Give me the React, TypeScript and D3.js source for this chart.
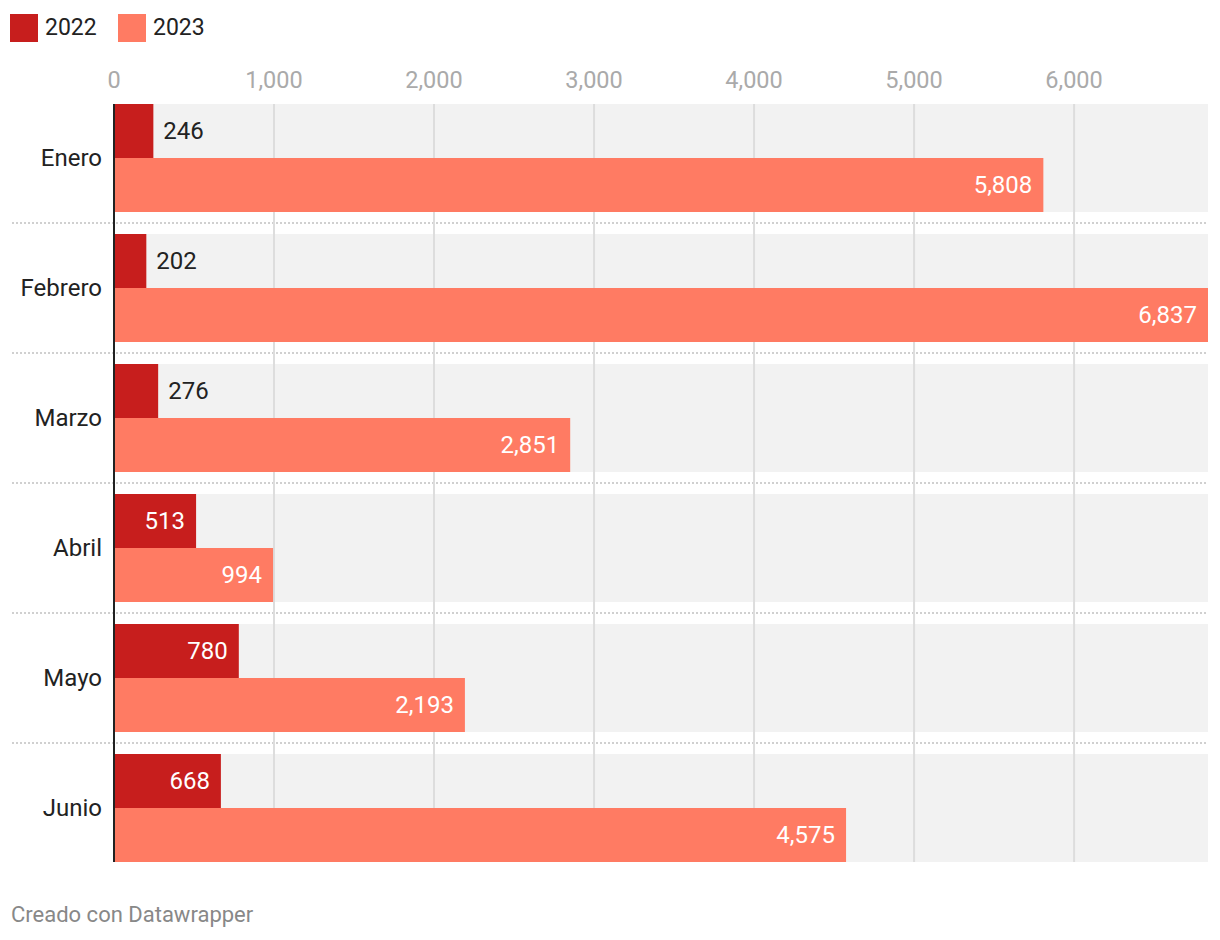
import React from "react";
import * as d3 from "d3";

const months = ["Enero", "Febrero", "Marzo", "Abril", "Mayo", "Junio"];
const values2022 = [246, 202, 276, 513, 780, 668];
const values2023 = [5808, 6837, 2851, 994, 2193, 4575];
const seriesNames = ["2022", "2023"];
const seriesColors = ["#c71e1d", "#ff7b63"];
const tickValues = [0, 1000, 2000, 3000, 4000, 5000, 6000];
const footerText = "Creado con Datawrapper";

const W = 1220;
const H = 940;
const FONT = "Roboto, 'Noto Sans', sans-serif";

export default function App() {
  const x = d3.scaleLinear().domain([0, d3.max(values2023)!]).range([114, 1208]);
  const rowTop0 = 104;
  const pitch = 130;
  const bandH = 108;
  const y = d3
    .scaleBand<string>()
    .domain(months)
    .range([rowTop0, rowTop0 + pitch * months.length]);
  const fmt = d3.format(",");
  const series = [values2022, values2023];
  const barH = bandH / 2;

  return (
    <svg
      width={W}
      height={H}
      style={{ position: "absolute", left: 0, top: 0, background: "#fff" }}
      fontFamily={FONT}
    >
      {/* legend */}
      {seriesNames.map((name, i) => {
        const lx = 10 + i * 108;
        return (
          <g key={name}>
            <rect x={lx} y={14} width={28} height={28} fill={seriesColors[i]} />
            <text x={lx + 35} y={34.5} fontSize={23} fill="#222">
              {name}
            </text>
          </g>
        );
      })}

      {/* axis tick labels */}
      {tickValues.map((t) => (
        <text
          key={t}
          x={x(t)}
          y={87.5}
          fontSize={23.5}
          fill="#aaa"
          textAnchor="middle"
        >
          {fmt(t)}
        </text>
      ))}

      {/* background bands */}
      {months.map((m) => (
        <rect
          key={"bg" + m}
          x={x(0)}
          y={y(m)!}
          width={x.range()[1] - x(0)}
          height={bandH}
          fill="#f2f2f2"
        />
      ))}

      {/* separators */}
      {months.slice(0, -1).map((m) => (
        <line
          key={"sep" + m}
          x1={12}
          x2={1208}
          y1={y(m)! + bandH + 11}
          y2={y(m)! + bandH + 11}
          stroke="#d0d0d0"
          strokeWidth={2}
          strokeDasharray="2,2"
        />
      ))}

      {/* gridlines */}
      {tickValues
        .filter((t) => t > 0)
        .map((t) => (
          <line
            key={"g" + t}
            x1={x(t)}
            x2={x(t)}
            y1={rowTop0}
            y2={y(months[months.length - 1])! + bandH}
            stroke="#dddddd"
            strokeWidth={2}
          />
        ))}

      {/* bars */}
      {months.map((m, mi) =>
        series.map((vals, si) => {
          const v = vals[mi];
          const by = y(m)! + si * barH;
          const w = x(v) - x(0);
          const inside = w > 62;
          return (
            <g key={m + si}>
              <rect x={x(0)} y={by} width={w} height={barH} fill={seriesColors[si]} />
              <text
                x={inside ? x(v) - 11 : x(v) + 10}
                y={by + barH / 2}
                dy="0.35em"
                fontSize={24}
                fill={inside ? "#fff" : "#222"}
                textAnchor={inside ? "end" : "start"}
              >
                {fmt(v)}
              </text>
            </g>
          );
        })
      )}

      {/* baseline */}
      <line
        x1={x(0)}
        x2={x(0)}
        y1={rowTop0}
        y2={y(months[months.length - 1])! + bandH}
        stroke="#222"
        strokeWidth={2}
      />

      {/* category labels */}
      {months.map((m) => (
        <text
          key={"lab" + m}
          x={102}
          y={y(m)! + bandH / 2}
          dy="0.35em"
          fontSize={24}
          fill="#222"
          textAnchor="end"
        >
          {m}
        </text>
      ))}

      {/* footer */}
      <text x={11} y={922} fontSize={22} fill="#888">
        {footerText}
      </text>
    </svg>
  );
}
